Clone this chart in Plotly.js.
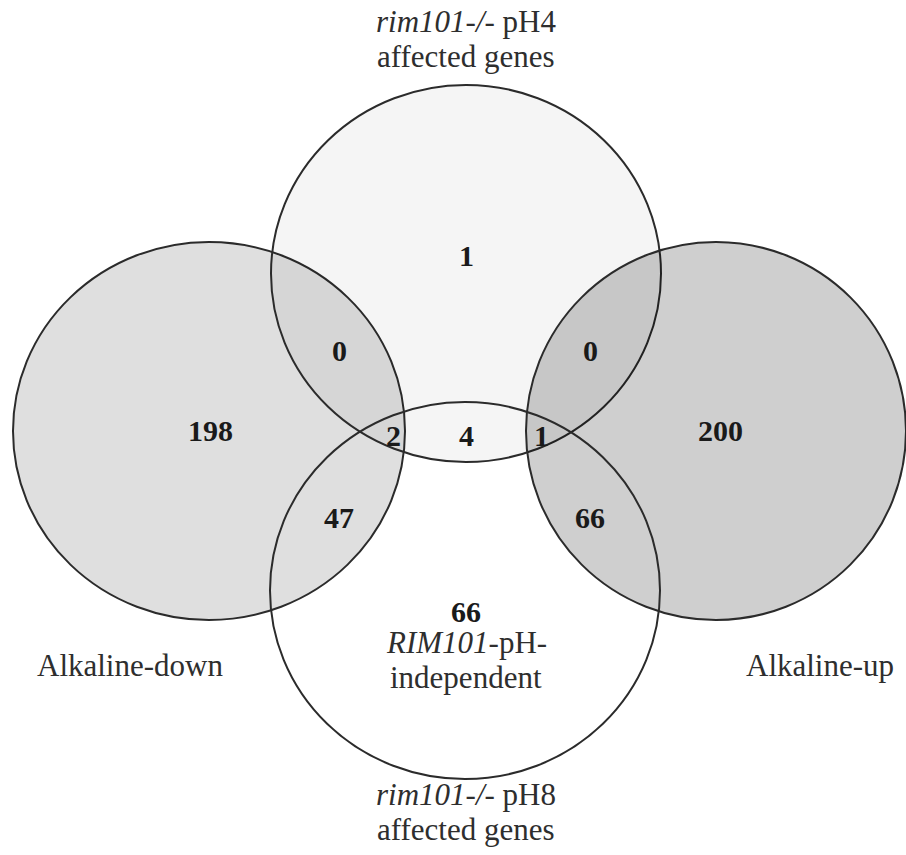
<!DOCTYPE html>
<html>
<head>
<meta charset="utf-8">
<script src="https://cdn.plot.ly/plotly-3.0.1.min.js"></script>
<style>html,body{margin:0;padding:0;background:#fff;}</style>
</head>
<body>
<div id="chart" style="width:906px;height:855px;"></div>
<script>
// ---- data ----
var setNames = ["Alkaline-down", "rim101-/- pH4 affected genes", "Alkaline-up", "rim101-/- pH8 affected genes"];
var setLabels = [
  "Alkaline-down",
  "<i>rim101-/-</i> pH4<br>affected genes",
  "Alkaline-up",
  "<i>rim101-/-</i> pH8<br>affected genes"
];
var regionNames = ["down only", "pH4 only", "up only", "pH8 only",
  "down∩pH4", "up∩pH4", "down∩pH8", "up∩pH8", "down∩pH4∩pH8", "pH4∩pH8", "up∩pH4∩pH8"];
var regionCounts = [198, 1, 200, 66, 0, 0, 47, 66, 2, 4, 1];
var extraNote = "<i>RIM101</i>-pH-<br>independent";

// ---- layout geometry (pixel-like plot coordinates) ----
var circleBoxes = [
  [13, 242, 405, 620],   // Alkaline-down
  [271, 85, 661, 462],   // pH4
  [526, 242, 906, 620],  // Alkaline-up
  [270, 402, 660, 779]   // pH8
];
var circleFills = ["rgba(0,0,0,0.125)", "rgba(0,0,0,0.04)", "rgba(0,0,0,0.19)", "rgba(0,0,0,0)"];
var labelPos = [[130, 665], [466, 21], [820, 665], [466, 794]];
var regionPos = [[210, 430], [466, 255], [720, 430], [466, 611],
  [339, 350], [590, 350], [339, 517], [590, 517], [393, 435], [466, 435], [541, 435]];
var notePos = [466, 642];
var lineGap = 35;

var shapes = circleBoxes.map(function (b, i) {
  return {
    type: "circle", xref: "x", yref: "y",
    x0: b[0], y0: b[1], x1: b[2], y1: b[3],
    fillcolor: circleFills[i],
    line: {color: "#2b2b2b", width: 2},
    layer: "above"
  };
});

var serif = "Liberation Serif, Times New Roman, serif";
var annotations = [];
function addLines(text, x, y, font) {
  text.split("<br>").forEach(function (ln, k) {
    annotations.push({
      x: x, y: y + k * lineGap, xref: "x", yref: "y",
      text: ln, showarrow: false, xanchor: "center", yanchor: "middle",
      font: font
    });
  });
}
var labelFont = {family: serif, size: 31, color: "#2e2e2e"};
var numFont = {family: serif, size: 30, color: "#1a1a1a"};
setLabels.forEach(function (t, i) {
  addLines(t, labelPos[i][0], labelPos[i][1], labelFont);
});
regionCounts.forEach(function (c, i) {
  annotations.push({
    x: regionPos[i][0], y: regionPos[i][1], xref: "x", yref: "y",
    text: "<b>" + c + "</b>", showarrow: false, xanchor: "center", yanchor: "middle",
    font: numFont
  });
});
addLines(extraNote, notePos[0], notePos[1], labelFont);

var layout = {
  width: 906, height: 855,
  margin: {l: 0, r: 0, t: 0, b: 0},
  paper_bgcolor: "#ffffff", plot_bgcolor: "#ffffff",
  xaxis: {range: [0, 906], visible: false, fixedrange: true},
  yaxis: {range: [855, 0], visible: false, fixedrange: true},
  showlegend: false,
  shapes: shapes,
  annotations: annotations
};

var traces = [{
  x: [0, 906], y: [0, 855], mode: "markers", type: "scatter",
  marker: {opacity: 0}, hoverinfo: "skip", name: setNames.join(" / ")
}];

Plotly.newPlot("chart", traces, layout, {displayModeBar: false, staticPlot: true});
</script>
</body>
</html>
